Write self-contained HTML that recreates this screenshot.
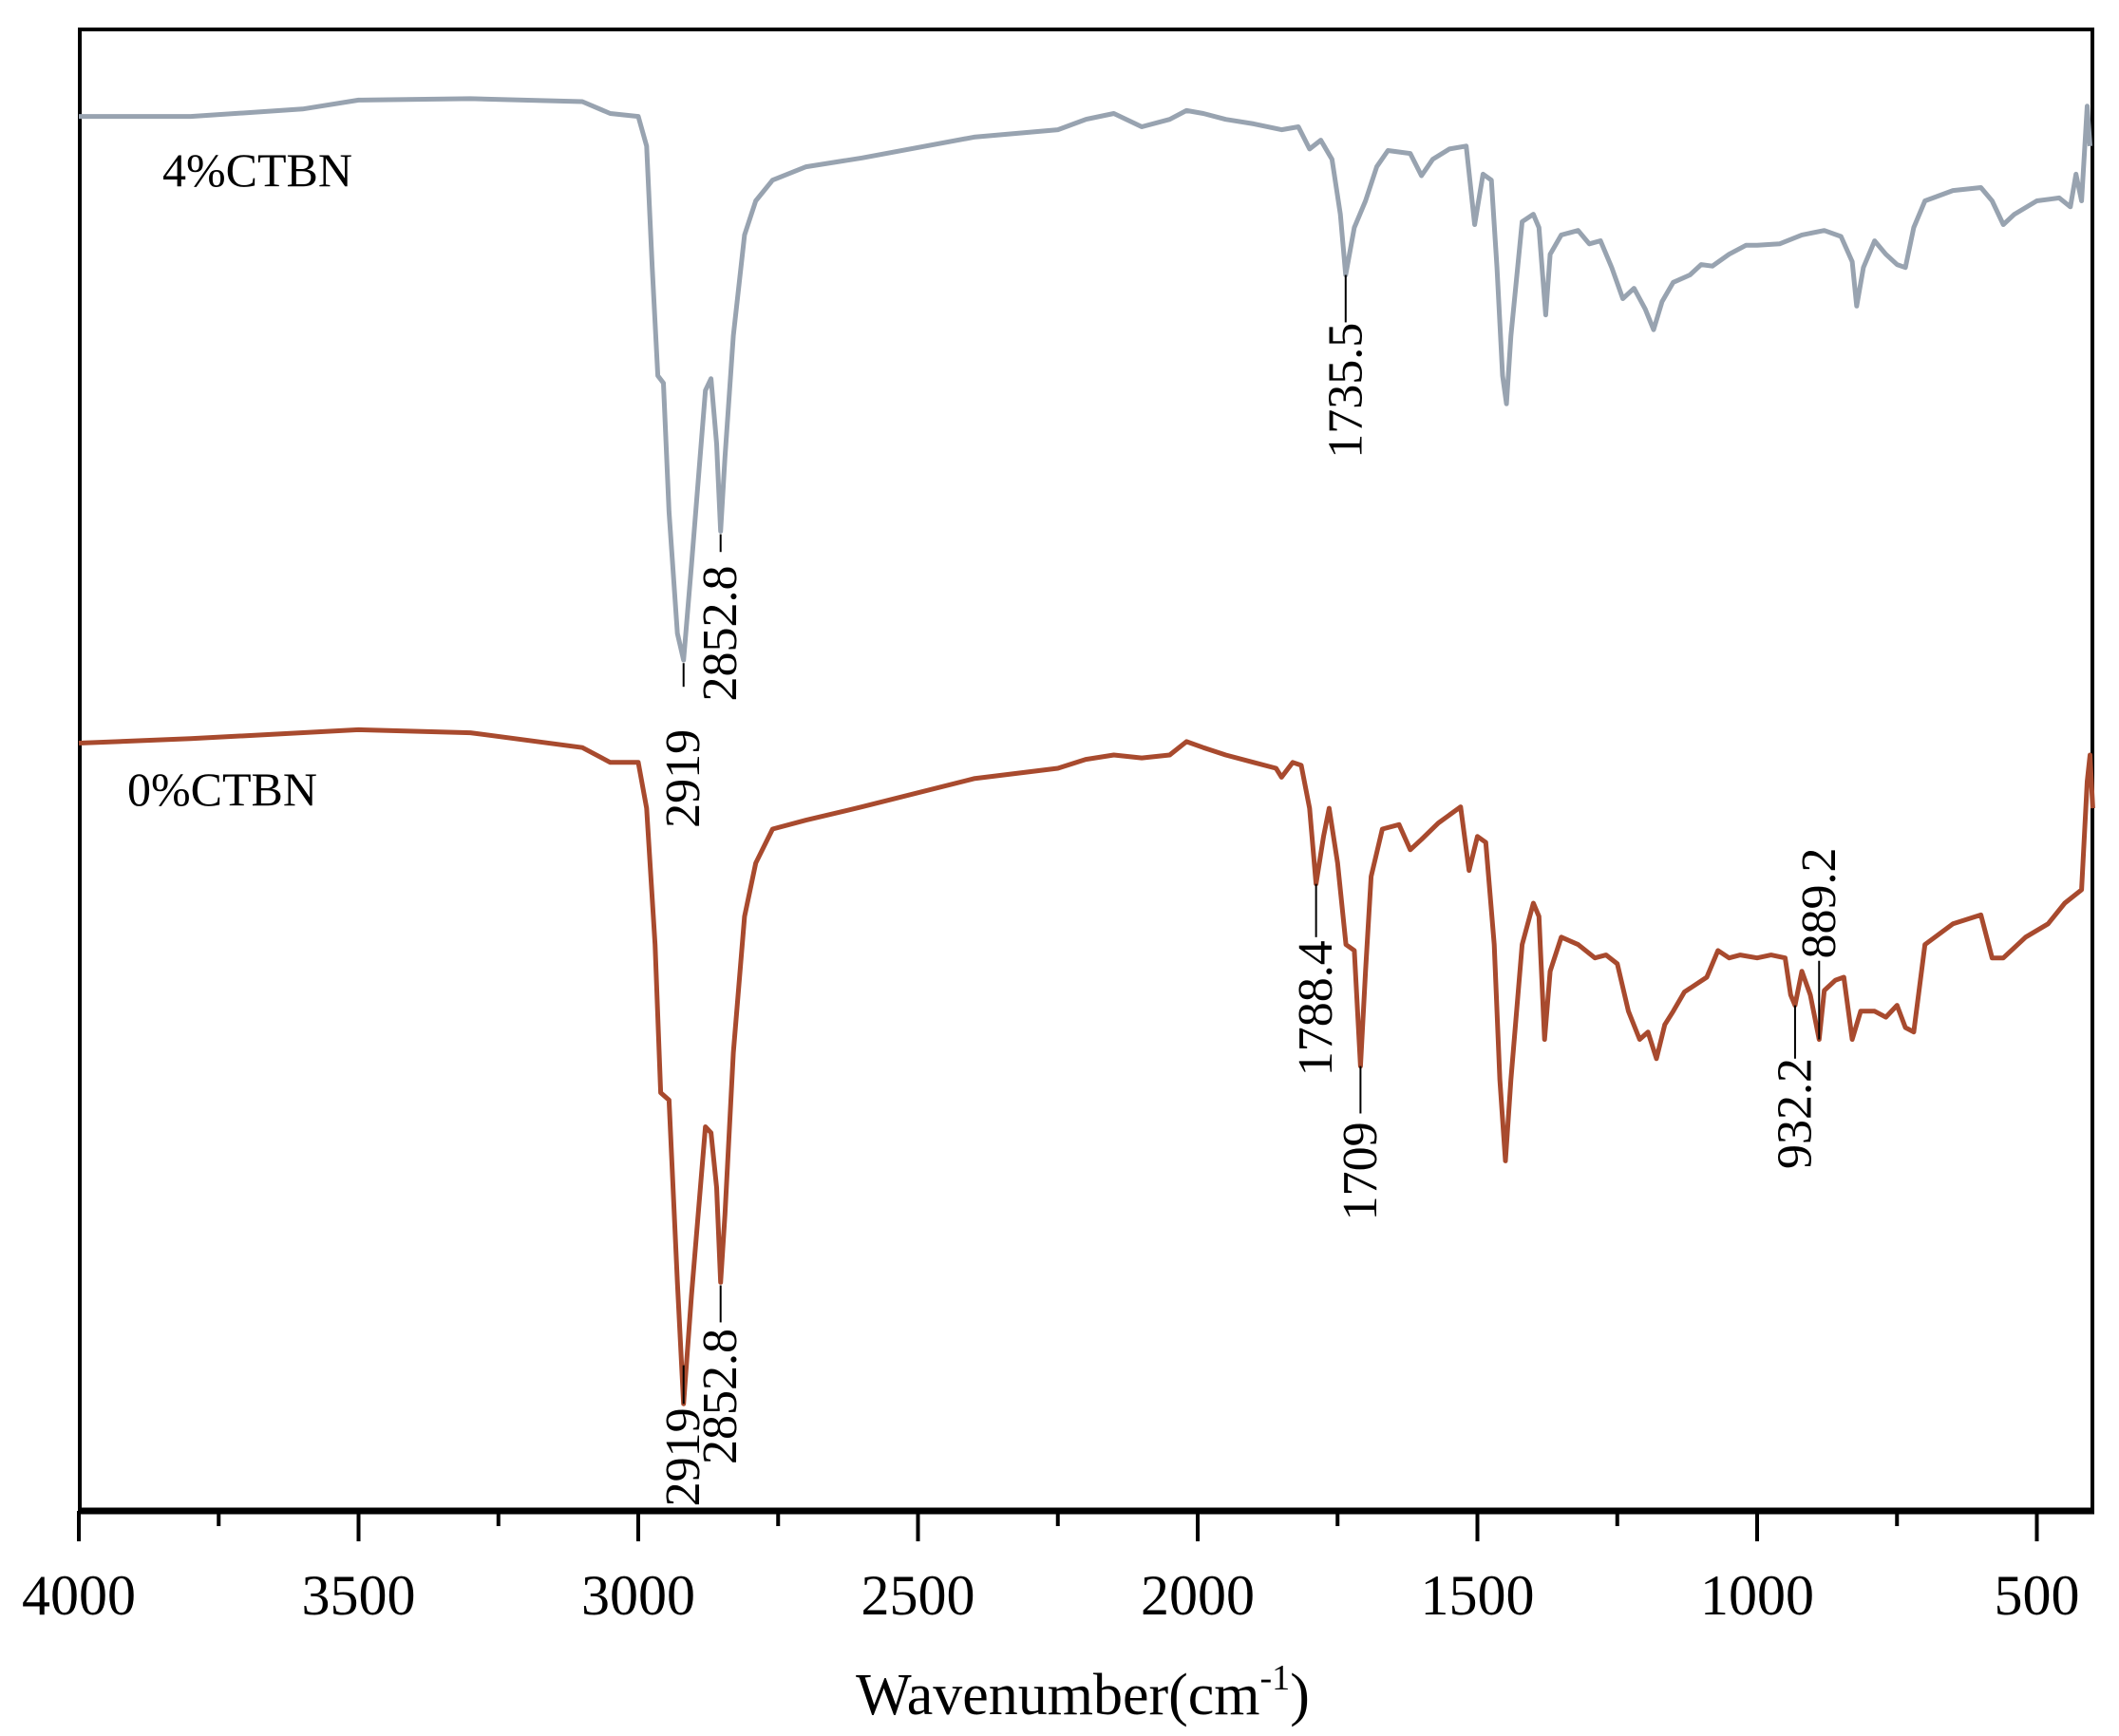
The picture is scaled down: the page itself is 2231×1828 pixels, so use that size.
<!DOCTYPE html>
<html><head><meta charset="utf-8"><style>
html,body{margin:0;padding:0;background:#fff;}
svg{display:block;font-family:"Liberation Serif",serif;}
</style></head><body>
<svg id="chart" width="2231" height="1828" viewBox="0 0 2231 1828" xmlns="http://www.w3.org/2000/svg">
<rect x="84" y="31" width="2119" height="1560" fill="none" stroke="#000" stroke-width="4"/>
<g id="ticks"></g>
<g id="series"></g>
<g id="annots"></g>
<text x="171" y="196" font-size="50">4%CTBN</text>
<text x="134" y="848" font-size="50">0%CTBN</text>
<text x="1140" y="1805" font-size="62" text-anchor="middle">Wavenumber(cm<tspan dy="-26" font-size="38">-1</tspan><tspan dy="26">)</tspan></text>
</svg>
<script>
const xTicks=[4000,3500,3000,2500,2000,1500,1000,500];
const xMinor=[3750,3250,2750,2250,1750,1250,750];
const grayWn=[4000,3800,3600,3500,3300,3100,3050,3000,2985,2975,2965,2955,2945,2930,2919,2905,2880,2870,2860,2852.8,2845,2830,2810,2790,2760,2700,2600,2400,2250,2200,2150,2100,2050,2020,1990,1950,1900,1850,1820,1800,1780,1760,1745,1735.5,1720,1700,1680,1660,1620,1600,1580,1550,1520,1505,1490,1475,1465,1455,1448,1440,1420,1400,1390,1378,1370,1350,1320,1300,1280,1260,1240,1220,1200,1185,1170,1150,1120,1100,1080,1050,1020,1000,960,920,880,850,830,822,810,790,770,750,735,720,700,650,600,580,560,540,500,460,440,430,420,410,405];
const grayVal=[94.0,94.0,94.5,95.1,95.2,95.0,94.2,94.0,92.0,83.8,76.5,76.0,67.3,59.1,57.3,63.7,75.5,76.3,71.9,66.0,71.0,79.2,86.0,88.3,89.7,90.6,91.2,92.6,93.1,93.8,94.2,93.3,93.8,94.4,94.2,93.8,93.5,93.1,93.3,91.8,92.4,91.1,87.4,83.3,86.5,88.3,90.6,91.7,91.5,90.0,91.1,91.8,92.0,86.7,90.1,89.7,83.8,76.5,74.6,79.2,86.9,87.4,86.5,80.6,84.7,86.0,86.3,85.4,85.6,83.8,81.7,82.4,81.0,79.6,81.5,82.8,83.3,84.0,83.9,84.7,85.3,85.3,85.4,86.0,86.3,85.9,84.2,81.2,83.8,85.6,84.7,84.0,83.8,86.5,88.3,89.0,89.2,88.3,86.7,87.4,88.3,88.5,87.9,90.1,88.3,94.7,92.0];
const orangeWn=[4000,3800,3500,3300,3100,3050,3000,2985,2970,2960,2945,2930,2919,2905,2880,2870,2860,2852.8,2845,2830,2810,2790,2760,2700,2600,2400,2250,2200,2150,2100,2050,2020,1990,1950,1900,1860,1850,1830,1815,1800,1788.4,1775,1765,1750,1735,1720,1709,1700,1690,1670,1640,1620,1600,1570,1530,1515,1500,1485,1470,1460,1450,1440,1420,1400,1390,1380,1370,1350,1320,1290,1270,1250,1230,1210,1195,1180,1165,1150,1130,1110,1090,1070,1050,1030,1000,975,950,940,932.2,920,905,889.2,880,860,845,830,815,790,770,750,735,720,700,650,600,580,560,520,480,450,420,410,405,400];
const orangeVal=[51.7,52.0,52.6,52.4,51.4,50.4,50.4,47.3,38.1,28.1,27.6,15.3,7.1,14.4,25.8,25.4,21.7,15.3,19.9,30.8,40.0,43.6,45.9,46.5,47.4,49.3,50.0,50.6,50.9,50.7,50.9,51.8,51.4,50.9,50.4,50.0,49.4,50.4,50.2,47.3,42.2,45.4,47.3,43.6,38.1,37.7,29.9,36.3,42.7,45.9,46.2,44.5,45.2,46.3,47.4,43.1,45.4,45.0,38.1,29.0,23.5,29.0,38.1,40.9,40.0,31.7,36.3,38.6,38.1,37.2,37.4,36.8,33.6,31.7,32.2,30.4,32.7,33.6,34.9,35.4,35.9,37.7,37.2,37.4,37.2,37.4,37.2,34.7,34.0,36.3,34.7,31.7,35.0,35.7,35.9,31.7,33.6,33.6,33.2,34.0,32.5,32.2,38.1,39.5,40.1,37.2,37.2,38.6,39.5,40.9,41.8,49.1,50.9,47.3];
const annWn=[2919,2852.8,1735.5,2919,2852.8,1788.4,1709,932.2,889.2];
const annLabels=["2919","2852.8","1735.5","2919","2852.8","1788.4","1709","932.2","889.2"];
const annLineTop=[57.1,65.8,83.3,9.7,15.1,42.2,29.9,34.0,37.0];
const annLineBot=[55.5,64.6,80.1,7.1,12.6,38.6,26.7,30.4,31.7];
const annTextY=[49.3,59.1,75.5,3.5,7.6,33.8,22.8,26.7,40.9];

const L=83,PX500=294.5,T=31,B=1591;
function x(w){return L+(4000-w)*PX500/500;}
function y(v){return T+(100-v)/100*(B-T)-2;}
const NS="http://www.w3.org/2000/svg";
const tg=document.getElementById('ticks');
const bx=document.createElementNS(NS,'line');
bx.setAttribute('x1',82);bx.setAttribute('x2',2205);bx.setAttribute('y1',1591);bx.setAttribute('y2',1591);
bx.setAttribute('stroke','#000');bx.setAttribute('stroke-width',7);


tg.appendChild(bx);
xTicks.forEach(t=>{
 const l=document.createElementNS(NS,'line');
 l.setAttribute('x1',x(t));l.setAttribute('x2',x(t));l.setAttribute('y1',1591);l.setAttribute('y2',1623);
 l.setAttribute('stroke','#000');l.setAttribute('stroke-width',4);
 
 
 tg.appendChild(l);
 const tx=document.createElementNS(NS,'text');
 tx.setAttribute('x',x(t));tx.setAttribute('y',1700);tx.setAttribute('font-size',60);tx.setAttribute('text-anchor','middle');
 tx.textContent=t;
 
 
 tg.appendChild(tx);
});
xMinor.forEach(t=>{
 const l=document.createElementNS(NS,'line');
 l.setAttribute('x1',x(t));l.setAttribute('x2',x(t));l.setAttribute('y1',1591);l.setAttribute('y2',1607);
 l.setAttribute('stroke','#000');l.setAttribute('stroke-width',4);
 
 
 tg.appendChild(l);
});
const sg=document.getElementById('series');
function drawSeries(wn,val,color,name){
 const p=document.createElementNS(NS,'path');
 p.setAttribute('d',wn.map((w,i)=>(i?'L':'M')+x(w).toFixed(1)+' '+y(val[i]).toFixed(1)).join(' '));
 p.setAttribute('fill','none');p.setAttribute('stroke',color);p.setAttribute('stroke-width',5);p.setAttribute('stroke-linejoin','round');
 
 
 sg.appendChild(p);
}
drawSeries(grayWn,grayVal,'#98a3b0','series-4pct-ctbn');
drawSeries(orangeWn,orangeVal,'#a84a2e','series-0pct-ctbn');
const ag=document.getElementById('annots');
annWn.forEach((w,i)=>{
 const l=document.createElementNS(NS,'line');
 l.setAttribute('x1',x(w));l.setAttribute('x2',x(w));l.setAttribute('y1',y(annLineTop[i]));l.setAttribute('y2',y(annLineBot[i]));
 l.setAttribute('stroke','#000');l.setAttribute('stroke-width',2);
 
 
 ag.appendChild(l);
 const tx=document.createElementNS(NS,'text');
 const cx=x(w),cy=y(annTextY[i]);
 tx.setAttribute('x',cx);tx.setAttribute('y',cy);tx.setAttribute('font-size',52);
 tx.setAttribute('text-anchor','middle');tx.setAttribute('dominant-baseline','central');
 tx.setAttribute('transform','rotate(-90 '+cx+' '+cy+')');
 tx.textContent=annLabels[i];
 
 
 ag.appendChild(tx);
});
</script>
</body></html>
